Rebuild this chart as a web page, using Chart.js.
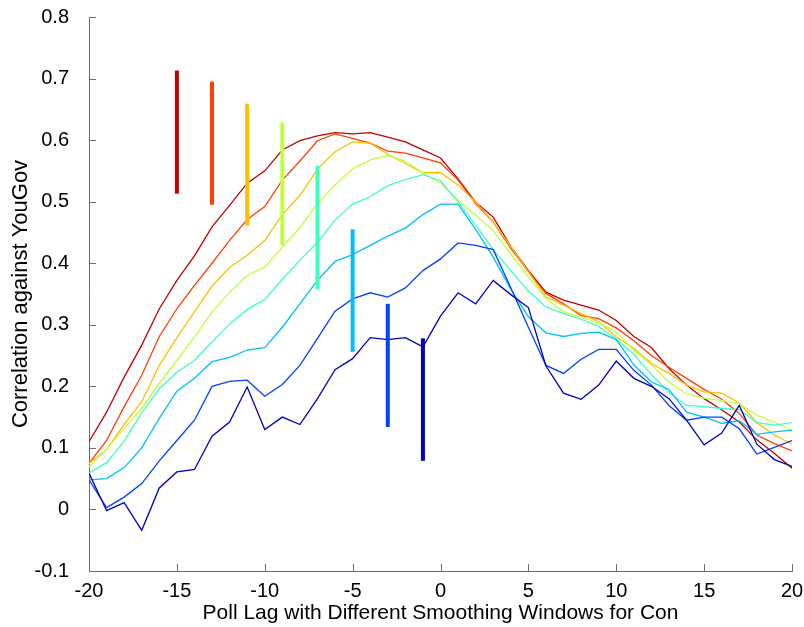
<!DOCTYPE html>
<html>
<head>
<meta charset="utf-8">
<script src="https://cdn.jsdelivr.net/npm/chart.js@4/dist/chart.umd.min.js"></script>
<style>
  html, body { margin: 0; padding: 0; background: #fff; }
  #wrap { width: 804px; height: 627px; }
</style>
</head>
<body>
<div id="wrap"><canvas id="lag-chart" width="804" height="627"></canvas></div>
<script>
// Poll lag (days) on the x axis
var lags = [
    -20, -19, -18, -17, -16, -15, -14, -13, -12, -11, -10, -9, -8, -7, -6, -5, -4, -3, -2, -1,
    0, 1, 2, 3, 4, 5, 6, 7, 8, 9, 10, 11, 12, 13, 14, 15, 16, 17, 18, 19, 20,
];

// Correlation curves, one per smoothing window (narrowest first)
var window1 = [
    0.059, -0.002, 0.011, -0.034, 0.035, 0.061, 0.065, 0.119, 0.142, 0.199, 0.130, 0.150, 0.138, 0.180, 0.227, 0.245, 0.279, 0.276, 0.279, 0.264,
    0.314, 0.352, 0.334, 0.372, 0.349, 0.328, 0.233, 0.189, 0.179, 0.202, 0.241, 0.213, 0.200, 0.180, 0.145, 0.105, 0.124, 0.169, 0.106, 0.081, 0.070,
];
var window2 = [
    0.048, 0.003, 0.020, 0.042, 0.079, 0.112, 0.145, 0.200, 0.208, 0.210, 0.184, 0.203, 0.234, 0.278, 0.322, 0.342, 0.352, 0.345, 0.360, 0.388,
    0.407, 0.433, 0.429, 0.422, 0.360, 0.296, 0.234, 0.221, 0.244, 0.260, 0.260, 0.226, 0.202, 0.169, 0.145, 0.150, 0.150, 0.131, 0.090, 0.101, 0.112,
];
var window3 = [
    0.048, 0.050, 0.068, 0.100, 0.148, 0.192, 0.213, 0.240, 0.247, 0.259, 0.263, 0.296, 0.334, 0.372, 0.403, 0.414, 0.429, 0.444, 0.457, 0.479,
    0.496, 0.496, 0.455, 0.410, 0.358, 0.313, 0.287, 0.281, 0.286, 0.288, 0.276, 0.235, 0.207, 0.195, 0.158, 0.150, 0.140, 0.144, 0.122, 0.126, 0.129,
];
var window4 = [
    0.059, 0.076, 0.111, 0.157, 0.196, 0.223, 0.242, 0.272, 0.301, 0.325, 0.341, 0.374, 0.405, 0.434, 0.470, 0.496, 0.508, 0.526, 0.536, 0.544,
    0.534, 0.500, 0.462, 0.422, 0.388, 0.355, 0.329, 0.318, 0.309, 0.297, 0.277, 0.252, 0.219, 0.190, 0.169, 0.167, 0.164, 0.162, 0.141, 0.137, 0.141,
];
var window5 = [
    0.069, 0.098, 0.132, 0.164, 0.205, 0.242, 0.280, 0.321, 0.353, 0.380, 0.394, 0.426, 0.458, 0.497, 0.527, 0.553, 0.568, 0.575, 0.566, 0.547,
    0.530, 0.502, 0.478, 0.453, 0.415, 0.378, 0.343, 0.321, 0.313, 0.303, 0.288, 0.259, 0.235, 0.207, 0.188, 0.181, 0.177, 0.172, 0.153, 0.142, 0.128,
];
var window6 = [
    0.075, 0.097, 0.138, 0.175, 0.234, 0.279, 0.321, 0.363, 0.393, 0.413, 0.437, 0.479, 0.510, 0.553, 0.581, 0.597, 0.595, 0.577, 0.562, 0.547,
    0.547, 0.527, 0.499, 0.467, 0.427, 0.386, 0.345, 0.332, 0.318, 0.305, 0.280, 0.262, 0.237, 0.221, 0.202, 0.191, 0.189, 0.173, 0.141, 0.121, 0.106,
];
var window7 = [
    0.075, 0.112, 0.167, 0.218, 0.281, 0.326, 0.364, 0.400, 0.437, 0.471, 0.492, 0.535, 0.566, 0.599, 0.610, 0.603, 0.595, 0.582, 0.579, 0.571,
    0.563, 0.535, 0.497, 0.467, 0.424, 0.386, 0.351, 0.334, 0.315, 0.310, 0.295, 0.274, 0.250, 0.231, 0.213, 0.195, 0.179, 0.156, 0.121, 0.107, 0.095,
];
var window8 = [
    0.110, 0.158, 0.215, 0.267, 0.326, 0.372, 0.412, 0.459, 0.494, 0.530, 0.550, 0.584, 0.599, 0.607, 0.612, 0.610, 0.612, 0.605, 0.597, 0.584,
    0.571, 0.537, 0.499, 0.475, 0.427, 0.388, 0.353, 0.340, 0.332, 0.324, 0.307, 0.281, 0.263, 0.229, 0.202, 0.180, 0.162, 0.142, 0.113, 0.091, 0.067,
];

// Vertical markers: lag position and low/high end of each bar
var markerLags = [-15, -13, -11, -9, -7, -5, -3, -1];
var markerLow = [0.513, 0.495, 0.461, 0.429, 0.358, 0.256, 0.134, 0.079];
var markerHigh = [0.713, 0.695, 0.659, 0.629, 0.558, 0.455, 0.334, 0.278];

var xTicks = [-20, -15, -10, -5, 0, 5, 10, 15, 20];
var yTicks = [-0.1, 0, 0.1, 0.2, 0.3, 0.4, 0.5, 0.6, 0.7, 0.8];

// jet-like colours, blue -> red
var curveColors = [
    "rgb(0, 0, 191)",
    "rgb(0, 64, 255)",
    "rgb(0, 191, 255)",
    "rgb(64, 255, 191)",
    "rgb(191, 255, 64)",
    "rgb(255, 191, 0)",
    "rgb(255, 64, 0)",
    "rgb(191, 0, 0)",
];
var markerColors = curveColors.slice().reverse();

var curves = [window1, window2, window3, window4, window5, window6, window7, window8];

var datasets = [];

markerLags.forEach(function (lag, i) {
    datasets.push({
        label: "marker " + lag,
        data: [
            { x: lag, y: markerLow[i] },
            { x: lag, y: markerHigh[i] },
        ],
        borderColor: markerColors[i],
        borderWidth: 4,
        borderCapStyle: "butt",
        pointRadius: 0,
        order: 0,
    });
});

curves.forEach(function (values, i) {
    datasets.push({
        label: "window " + (i + 1),
        data: lags.map(function (lag, j) {
            return { x: lag, y: values[j] };
        }),
        borderColor: curveColors[i],
        borderWidth: 1.3,
        pointRadius: 0,
        tension: 0,
        order: 1,
    });
});

var axisColor = "#6e6e6e";
var fontFamily = "'Liberation Sans', Arial, Helvetica, sans-serif";

// MATLAB-style tick marks pointing into the plot
var innerTicks = {
    id: "innerTicks",
    afterDatasetsDraw: function (chart) {
        var ctx = chart.ctx;
        var x = chart.scales.x;
        var y = chart.scales.y;
        var area = chart.chartArea;
        ctx.save();
        ctx.strokeStyle = axisColor;
        ctx.lineWidth = 1;
        ctx.beginPath();
        xTicks.forEach(function (v) {
            var px = Math.round(x.getPixelForValue(v)) + 0.5;
            ctx.moveTo(px, area.bottom);
            ctx.lineTo(px, area.bottom - 7);
        });
        yTicks.forEach(function (v) {
            var py = Math.round(y.getPixelForValue(v)) + 0.5;
            ctx.moveTo(area.left, py);
            ctx.lineTo(area.left + 7, py);
        });
        ctx.stroke();
        ctx.restore();
    },
};

new Chart(document.getElementById("lag-chart").getContext("2d"), {
    type: "line",
    data: { datasets: datasets },
    options: {
        responsive: false,
        animation: false,
        layout: { padding: { top: 17, right: 12, left: 0, bottom: 0 } },
        plugins: {
            legend: { display: false },
            tooltip: { enabled: false },
        },
        scales: {
            x: {
                type: "linear",
                min: -20,
                max: 20,
                afterBuildTicks: function (scale) {
                    scale.ticks = xTicks.map(function (v) { return { value: v }; });
                },
                afterFit: function (scale) {
                    scale.height = 56;
                    scale.paddingLeft = 0;
                    scale.paddingRight = 0;
                },
                ticks: {
                    color: "#000",
                    padding: 8,
                    maxRotation: 0,
                    font: { family: fontFamily, size: 20 },
                    callback: function (v) { return String(v); },
                },
                grid: { drawOnChartArea: false, drawTicks: false },
                border: { color: axisColor, width: 1 },
                title: {
                    display: true,
                    text: "Poll Lag with Different Smoothing Windows for Con",
                    color: "#000",
                    font: { family: fontFamily, size: 21 },
                    padding: { top: 0, bottom: 1 },
                },
            },
            y: {
                type: "linear",
                min: -0.1,
                max: 0.8,
                afterBuildTicks: function (scale) {
                    scale.ticks = yTicks.map(function (v) { return { value: v }; });
                },
                afterFit: function (scale) {
                    scale.width = 89;
                    scale.paddingTop = 0;
                    scale.paddingBottom = 0;
                },
                ticks: {
                    color: "#000",
                    padding: 20,
                    font: { family: fontFamily, size: 20 },
                    callback: function (v) { return String(Number(v.toFixed(1))); },
                },
                grid: { drawOnChartArea: false, drawTicks: false },
                border: { color: axisColor, width: 1 },
                title: {
                    display: true,
                    text: "Correlation against YouGov",
                    color: "#000",
                    font: { family: fontFamily, size: 22 },
                    padding: { top: 8, bottom: 0 },
                },
            },
        },
    },
    plugins: [innerTicks],
});
</script>
</body>
</html>
